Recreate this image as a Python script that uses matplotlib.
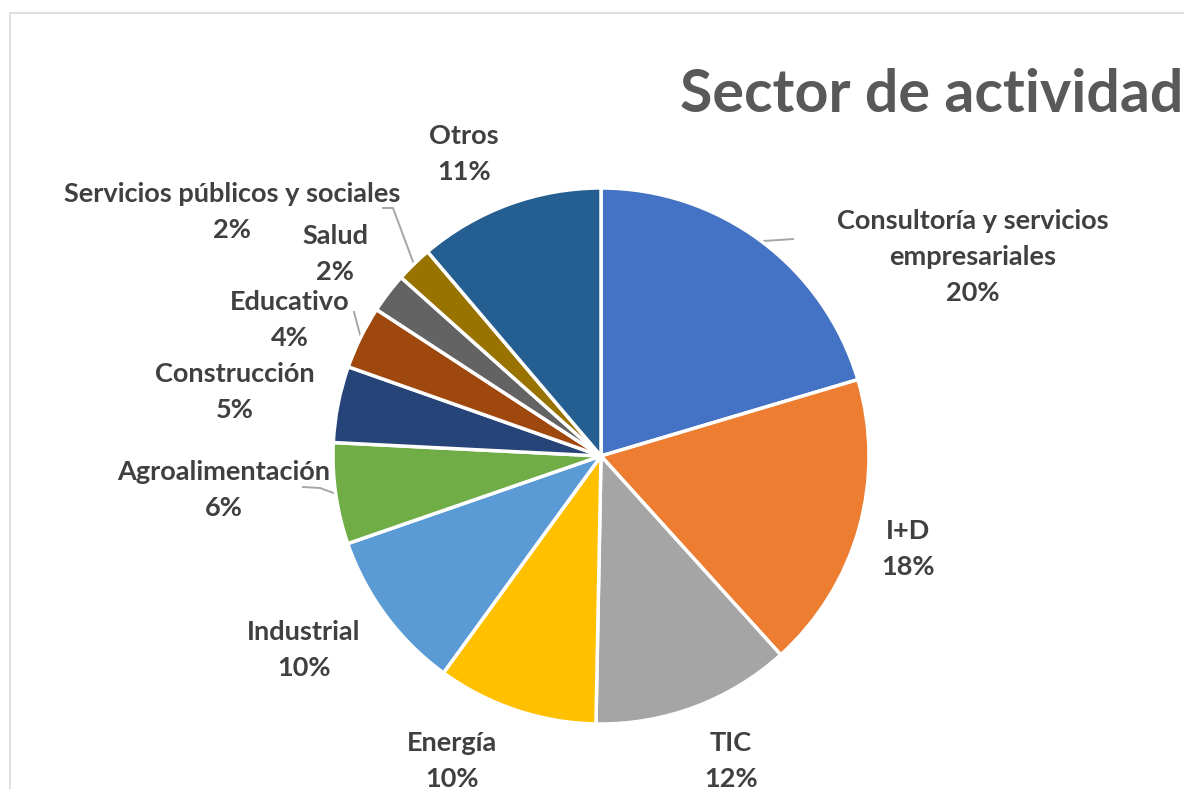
import matplotlib
matplotlib.use("Agg")
import matplotlib.pyplot as plt
import numpy as np

# ---------------- data ----------------
categories = ["Consultoría y servicios\nempresariales", "I+D", "TIC", "Energía",
              "Industrial", "Agroalimentación", "Construcción", "Educativo",
              "Salud", "Servicios públicos y sociales", "Otros"]
shares = [20.4, 17.9, 12.0, 9.7, 9.7, 6.1, 4.6, 3.8, 2.4, 2.2, 11.2]
colors = ["#4472C4", "#ED7D31", "#A5A5A5", "#FFC000", "#5B9BD5", "#70AD47",
          "#264478", "#9E480E", "#636363", "#997300", "#255E91"]
title = "Sector de actividad"

# ---------------- layout (pixels, y from top) ----------------
W, H = 1184, 789
CX, CY, R = 601, 456, 268
label_pos = {
    0: (973, 257), 1: (908, 549), 2: (731, 761), 3: (452, 761),
    4: (304, 650), 5: (224, 490), 6: (235, 392), 7: (290, 320),
    8: (335, 254), 9: (232, 212), 10: (464, 154),
}
# leader elbows (label side points), end point computed on the wedge edge
leaders = {
    0: [(793, 239)],
    9: [(383, 208), (393, 208)],
    7: [(354, 312)],
    5: [(303, 487), (320, 488)],
}
LINE_GAP = 36
TXT = "#404040"
FONT = ["Lato", "DejaVu Sans"]

fig = plt.figure(figsize=(W / 100, H / 100), dpi=100)
ax = fig.add_axes([0, 0, 1, 1])

def Y(py):
    return H - py

wedges, _ = ax.pie(shares, colors=colors, startangle=90, counterclock=False,
                   radius=R, center=(CX, Y(CY)),
                   wedgeprops=dict(edgecolor="white", linewidth=2.5))
ax.set_xlim(0, W)
ax.set_ylim(0, H)
ax.set_aspect("equal")
ax.axis("off")

# border of chart area
ax.plot([10, 10, W + 5], [Y(H + 5), Y(13), Y(13)], color="#D9D9D9", lw=1.2,
        clip_on=False)

renderer = fig.canvas.get_renderer()

def fit_size(text, target_w, size0=20):
    t = ax.text(0, 0, text, fontsize=size0, fontweight="bold", family=FONT)
    w = t.get_window_extent(renderer).width
    t.remove()
    return size0 * target_w / w

lab_size = fit_size("Servicios públicos y sociales", 337)
title_size = fit_size(title, 503, 40)

# title
ax.text(680, Y(112), title, fontsize=title_size, fontweight="bold",
        family=FONT, color="#595959", ha="left", va="baseline")

total = sum(shares)
for i, (name, val) in enumerate(zip(categories, shares)):
    lines = name.split("\n") + ["%d%%" % round(val / total * 100)]
    x, yc = label_pos[i]
    n = len(lines)
    for k, ln in enumerate(lines):
        yy = yc + (k - (n - 1) / 2) * LINE_GAP
        ax.text(x, Y(yy), ln, fontsize=lab_size, fontweight="bold",
                family=FONT, color=TXT, ha="center", va="center")

# leader lines
for i, pts in leaders.items():
    w = wedges[i]
    mid = np.deg2rad((w.theta1 + w.theta2) / 2)
    ex = CX + R * np.cos(mid)
    ey = Y(CY) + R * np.sin(mid)
    xs = [p[0] for p in pts] + [ex]
    ys = [Y(p[1]) for p in pts] + [ey]
    ax.plot(xs, ys, color="#A6A6A6", lw=1.4, zorder=0.5)

fig.savefig("out.png", dpi=100)
